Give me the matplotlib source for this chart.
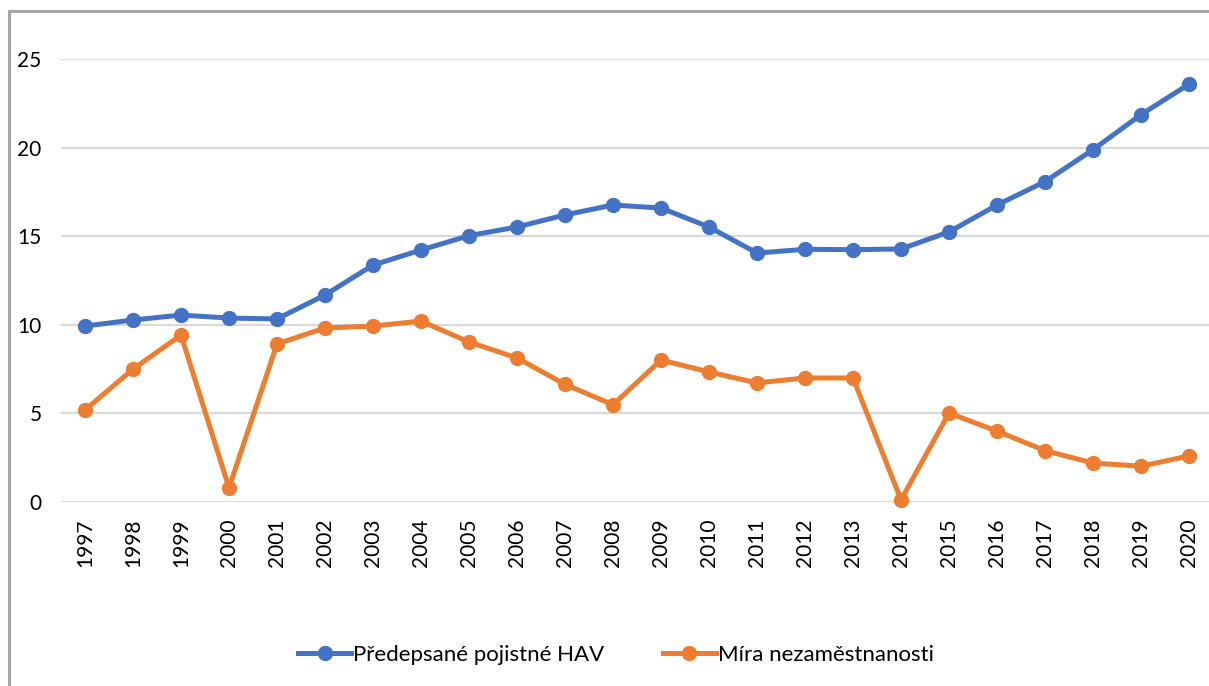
import matplotlib
matplotlib.use("Agg")
import matplotlib.pyplot as plt
from matplotlib.lines import Line2D

plt.rcParams['font.family'] = ['Lato', 'DejaVu Sans']

years = [str(y) for y in range(1997, 2021)]
premiums = [9.93, 10.27, 10.55, 10.38, 10.33, 11.68, 13.37, 14.22, 15.03, 15.52,
            16.2, 16.76, 16.59, 15.52, 14.05, 14.26, 14.24, 14.28, 15.24, 16.76,
            18.08, 19.88, 21.86, 23.58]
unemployment = [5.19, 7.5, 9.42, 0.8, 8.92, 9.82, 9.93, 10.21, 9.03, 8.13,
                6.64, 5.49, 8.01, 7.34, 6.72, 7.0, 7.0, 0.12, 5.02, 4.0,
                2.9, 2.2, 2.02, 2.6]
labels = ["Předepsané pojistné HAV", "Míra nezaměstnanosti"]
yticks = [0, 5, 10, 15, 20, 25]

blue = "#4472C4"
orange = "#ED7D31"

W, H = 1209, 686
fig = plt.figure(figsize=(W / 100, H / 100), dpi=100)
ax = fig.add_axes([61 / W, (H - 502) / H, 1152 / W, 443 / H])

x = list(range(len(years)))
ax.plot(x, premiums, color=blue, lw=3.6, marker='o', ms=10, clip_on=False, zorder=3)
ax.plot(x, unemployment, color=orange, lw=3.6, marker='o', ms=10, clip_on=False, zorder=3)

ax.set_xlim(-0.5, len(years) - 0.5)
ax.set_ylim(0, 25)
ax.set_yticks(yticks)
ax.set_xticks(x)
ax.set_xticklabels(years, rotation=90, fontsize=15)
ax.tick_params(axis='y', labelsize=15, length=0, pad=14)
ax.tick_params(axis='x', length=0, pad=12)
ax.grid(axis='y', color='#D9D9D9', lw=1.5)
ax.set_axisbelow(True)
for s in ax.spines.values():
    s.set_visible(False)

# legend
handles = [Line2D([], [], color=c, lw=3.6, marker='o', ms=10) for c in (blue, orange)]
fig.legend(handles, labels, loc='center', bbox_to_anchor=(616 / W, 1 - 655 / H),
           ncol=2, frameon=False, fontsize=16, handlelength=2.4, handletextpad=0.1,
           columnspacing=2.6)

# chart frame (top and left edges visible)
fig.add_artist(Line2D([9 / W, 9 / W], [0, 1 - 11 / H], color='#A6A6A6', lw=2.2,
                      transform=fig.transFigure))
fig.add_artist(Line2D([9 / W, 1], [1 - 11 / H, 1 - 11 / H], color='#A6A6A6', lw=2.2,
                      transform=fig.transFigure))

fig.savefig("out.png", dpi=100)
